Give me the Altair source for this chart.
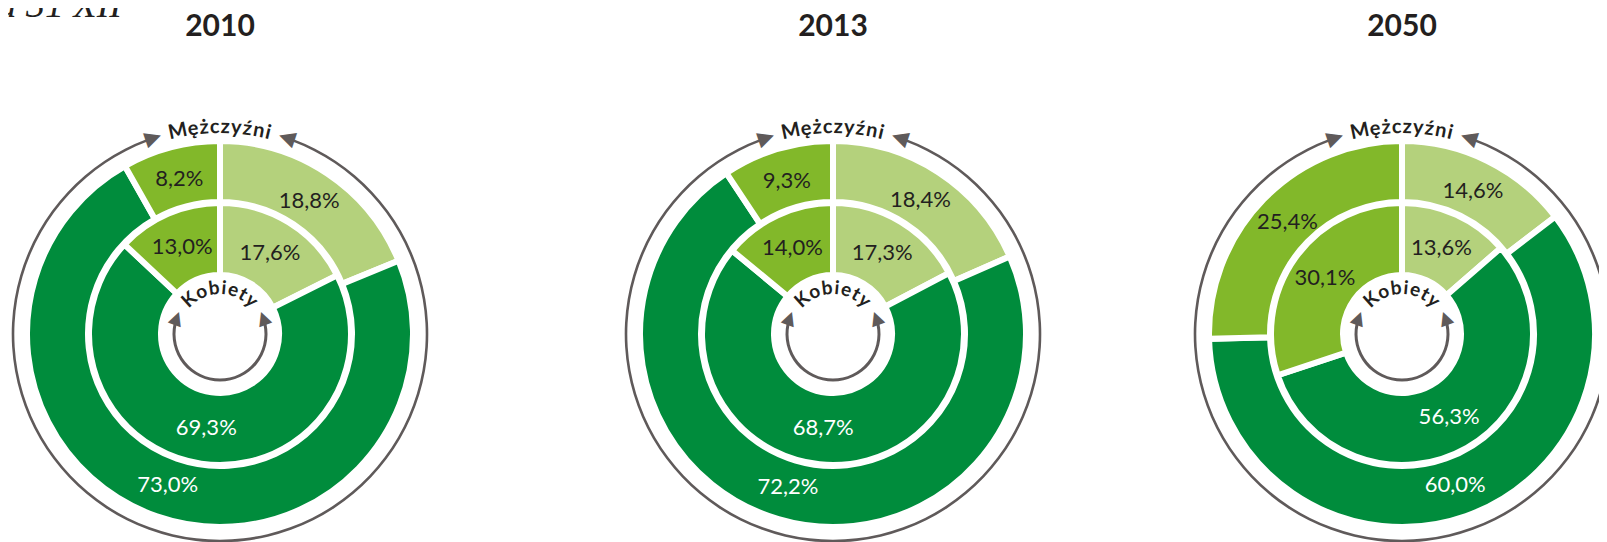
import math
import altair as alt
import pandas as pd

# ---------------- data ----------------
years = ["2010", "2013", "2050"]
groups = ["przedprodukcyjny", "produkcyjny", "poprodukcyjny"]   # clockwise from the top
men_2010 = [18.8, 73.0, 8.2]
women_2010 = [17.6, 69.3, 13.0]
men_2013 = [18.4, 72.2, 9.3]
women_2013 = [17.3, 68.7, 14.0]
men_2050 = [14.6, 60.0, 25.4]
women_2050 = [13.6, 56.3, 30.1]
men_label = "Mężczyźni"
women_label = "Kobiety"
note_text = "na 31 XII"

# ---------------- styles / layout ----------------
colors = ["#B4D17C", "#008C3C", "#82B82A"]
DARK = "#231F20"
GREY = "#5F5A5A"
CX = [212, 825, 1394]
CY = 326

rows = []
for y, m, w in zip(years, [men_2010, men_2013, men_2050], [women_2010, women_2013, women_2050]):
    for sex, vals in (("M", m), ("K", w)):
        for i, (g, v) in enumerate(zip(groups, vals)):
            rows.append(dict(year=y, sex=sex, group=g, order=i, value=v,
                             label=f"{v:.1f}".replace(".", ",") + "%"))
df = pd.DataFrame(rows)
title_df = pd.DataFrame({"year": years})

# approximate glyph advances (em) for curved text layout
EM = {"M": 0.86, "ę": 0.53, "ż": 0.46, "c": 0.46, "z": 0.46, "y": 0.52, "ź": 0.46,
      "n": 0.57, "i": 0.26, "K": 0.64, "o": 0.57, "b": 0.57, "e": 0.53, "t": 0.36}


def curved(word, size, tracking, r_base, key):
    w = [EM.get(c, 0.5) * size for c in word]
    total = sum(w) + tracking * (len(word) - 1)
    pos = -total / 2
    out = []
    for c, wi in zip(word, w):
        centre = pos + wi / 2
        ang = centre / r_base
        out.append(dict(word=key, ch=c, th=ang % (2 * math.pi), rot=math.degrees(ang) % 360))
        pos += wi + tracking
    return out


M_SIZE, M_RB = 20, 201
K_SIZE, K_RB = 19, 40
char_df = pd.DataFrame(curved(men_label, M_SIZE, 1.0, M_RB, "M") +
                       curved(women_label, K_SIZE, 0.8, K_RB, "K"))

color_scale = alt.Scale(domain=groups, range=colors)
theta_stack = alt.Theta("value:Q", stack="normalize")


def rad(d):
    return math.radians(d)


layers = []
for y, cx in zip(years, CX):
    pos = dict(x=alt.value(cx), y=alt.value(CY))
    for sex, r_out, r_in, r_lab in (("M", 193, 132, 160), ("K", 131, 59, 95)):
        base = alt.Chart(df).transform_filter((alt.datum.year == y) & (alt.datum.sex == sex))
        layers.append(base.mark_arc(stroke="white", strokeWidth=6).encode(
            theta=theta_stack, order=alt.Order("order:Q"),
            color=alt.Color("group:N", scale=color_scale, legend=None),
            radius=alt.value(r_out), radius2=alt.value(r_in), **pos))
        layers.append(base.mark_text(font="Lato", fontSize=22, baseline="middle").encode(
            theta=theta_stack, order=alt.Order("order:Q"), detail="group:N",
            radius=alt.value(r_lab), text="label:N",
            color=alt.condition(alt.datum.group == "produkcyjny", alt.value("white"), alt.value(DARK)),
            **pos))

    tb = alt.Chart(title_df).transform_filter(alt.datum.year == y)
    # year title
    layers.append(tb.mark_text(font="Lato", fontSize=30, fontWeight="bold", baseline="alphabetic",
                               color=DARK).encode(text="year:N", x=alt.value(cx), y=alt.value(28)))
    # outer arrow circle
    layers.append(tb.mark_arc(color=GREY).encode(
        theta=alt.value(rad(20.5)), theta2=alt.value(rad(339.5)),
        radius=alt.value(208.3), radius2=alt.value(205.7), **pos))
    # inner arrow circle
    layers.append(tb.mark_arc(color=GREY).encode(
        theta=alt.value(rad(78)), theta2=alt.value(rad(282)),
        radius=alt.value(47.5), radius2=alt.value(44.5), **pos))
    # arrow heads
    for th_deg, r, rot, size in ((18.7, 207, 288.5, 21), (341.3, 207, 71.5, 21),
                                 (70, 46, 340, 18), (290, 46, 20, 18)):
        layers.append(tb.mark_text(font="DejaVu Sans", fontSize=size, baseline="middle",
                                   color=GREY).encode(
            text=alt.value("▲"), theta=alt.value(rad(th_deg)), radius=alt.value(r),
            angle=alt.value(rot), **pos))
    # curved words
    for key, size, rb in (("M", M_SIZE, M_RB), ("K", K_SIZE, K_RB)):
        layers.append(alt.Chart(char_df).transform_filter(alt.datum.word == key).mark_text(
            font="Lato", fontSize=size, fontWeight="bold", baseline="alphabetic", color=DARK).encode(
            text="ch:N", theta=alt.Theta("th:Q", scale=None, stack=None),
            angle=alt.Angle("rot:Q", scale=None), radius=alt.value(rb), **pos))

note = alt.Chart(pd.DataFrame({"t": [note_text]})).mark_text(
    font="Liberation Serif", fontStyle="italic", fontSize=38, align="right",
    baseline="alphabetic", color=DARK).encode(text="t:N", x=alt.value(114), y=alt.value(9))
layers.append(note)

chart = alt.layer(*layers).properties(
    width=1591, height=534, padding=0,
    autosize=alt.AutoSizeParams(type="none"),
).configure_view(stroke=None)

chart.save("out.html", embed_options={"renderer": "svg", "actions": False})
